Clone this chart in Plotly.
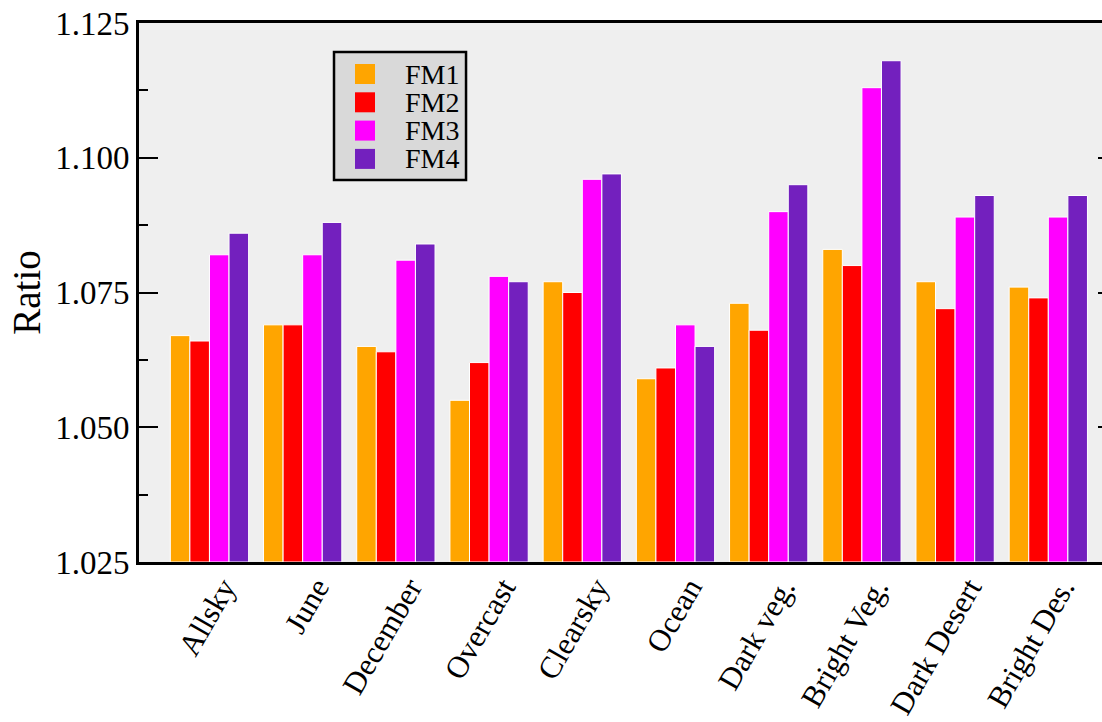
import plotly.graph_objects as go

categories = ["Allsky", "June", "December", "Overcast", "Clearsky", "Ocean",
              "Dark veg.", "Bright Veg.", "Dark Desert", "Bright Des."]
series_names = ["FM1", "FM2", "FM3", "FM4"]
fm1 = [1.067, 1.069, 1.065, 1.055, 1.077, 1.059, 1.073, 1.083, 1.077, 1.076]
fm2 = [1.066, 1.069, 1.064, 1.062, 1.075, 1.061, 1.068, 1.080, 1.072, 1.074]
fm3 = [1.082, 1.082, 1.081, 1.078, 1.096, 1.069, 1.090, 1.113, 1.089, 1.089]
fm4 = [1.086, 1.088, 1.084, 1.077, 1.097, 1.065, 1.095, 1.118, 1.093, 1.093]
series_values = [fm1, fm2, fm3, fm4]
colors = ["#FFA500", "#FF0000", "#FF00FF", "#7320BE"]
y_tickvals = [1.025, 1.050, 1.075, 1.100, 1.125]
y_ticktext = ["1.025", "1.050", "1.075", "1.100", "1.125"]

FONT = "Liberation Serif, Times New Roman, serif"
x_idx = list(range(len(categories)))

fig = go.Figure()
for name, vals, col in zip(series_names, series_values, colors):
    fig.add_trace(go.Bar(
        x=x_idx, y=[v - 1.025 for v in vals], base=1.025, name=name,
        marker=dict(color=col, line=dict(color="white", width=1)),
        showlegend=False,
    ))

# dummy trace to host a right-side tick axis
fig.add_trace(go.Scatter(x=[0], y=[1.05], yaxis="y2", mode="markers",
                         marker=dict(opacity=0), showlegend=False, hoverinfo="skip"))

# manual legend box
lx0, lx1, ly0, ly1 = 0.2025, 0.3396, 0.7087, 0.9462
fig.add_shape(type="rect", xref="paper", yref="paper", x0=lx0, x1=lx1, y0=ly0, y1=ly1,
              fillcolor="#d9d9d9", line=dict(color="black", width=2.5), layer="above")
sw_x0, sw_x1 = 0.2243, 0.2451
row_h = 28.3 / 539
sw_h = 20 / 539
top_center = (562 - 74) / 539
for i, (name, col) in enumerate(zip(series_names, colors)):
    yc = top_center - i * row_h
    fig.add_shape(type="rect", xref="paper", yref="paper", x0=sw_x0, x1=sw_x1,
                  y0=yc - sw_h / 2, y1=yc + sw_h / 2, fillcolor=col,
                  line=dict(width=0), layer="above")
    fig.add_annotation(xref="paper", yref="paper", x=0.2741, y=yc, text=name,
                       showarrow=False, xanchor="left", yanchor="middle",
                       font=dict(family=FONT, size=28, color="black"))

fig.update_layout(
    width=1102, height=722,
    margin=dict(l=139, r=0, t=23, b=160),
    paper_bgcolor="white", plot_bgcolor="#efefef",
    barmode="group", bargap=0.16, bargroupgap=0,
    font=dict(family=FONT, color="black"),
    xaxis=dict(
        range=[-0.756, 9.576], tickvals=x_idx, ticktext=categories,
        tickangle=-60, tickfont=dict(family=FONT, size=31),
        ticklabelshift=14, ticklabelstandoff=-8,
        showline=True, linecolor="black", linewidth=3, mirror=True,
        ticks="", showgrid=False, zeroline=False, automargin=False,
    ),
    yaxis=dict(
        range=[1.025, 1.125], tickvals=y_tickvals, ticktext=y_ticktext,
        tickfont=dict(family=FONT, size=33),
        ticks="inside", ticklen=19, tickwidth=2, tickcolor="black",
        minor=dict(ticks="inside", ticklen=9, tickwidth=2, tickcolor="black",
                   tickvals=[1.0375, 1.0625, 1.0875, 1.1125]),
        showline=True, linecolor="black", linewidth=3,
        showgrid=False, zeroline=False, automargin=False,
        title=dict(text="Ratio", font=dict(family=FONT, size=39), standoff=3),
    ),
    yaxis2=dict(
        overlaying="y", side="right", range=[1.025, 1.125], tickvals=y_tickvals,
        showticklabels=False, ticks="inside", ticklen=4, tickwidth=2, tickcolor="black",
        showline=False, showgrid=False, zeroline=False, automargin=False,
    ),
)

fig.write_html("out.html", config={"displayModeBar": False},
               post_script="document.body.style.margin='0';")
